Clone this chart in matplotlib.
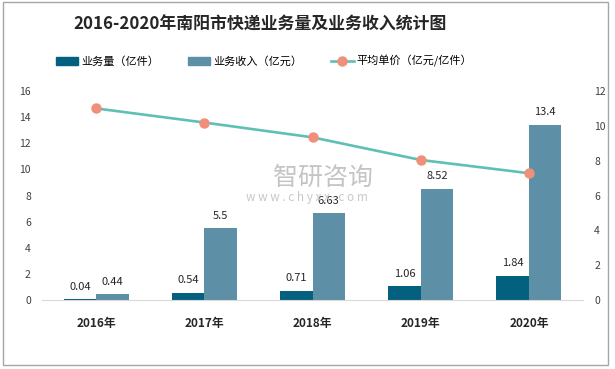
import numpy as np
import matplotlib
matplotlib.use("Agg")
import matplotlib.pyplot as plt
from matplotlib.patches import Patch, Rectangle
from matplotlib.lines import Line2D

plt.rcParams['font.family'] = ['Noto Sans CJK SC', 'DejaVu Sans']

# data
years = ['2016年', '2017年', '2018年', '2019年', '2020年']
volume = [0.04, 0.54, 0.71, 1.06, 1.84]          # 业务量（亿件）
revenue = [0.44, 5.5, 6.63, 8.52, 13.4]          # 业务收入（亿元）
unit_price = [11.0, 10.19, 9.34, 8.04, 7.28]     # 平均单价（亿元/亿件）
volume_labels = ['0.04', '0.54', '0.71', '1.06', '1.84']
revenue_labels = ['0.44', '5.5', '6.63', '8.52', '13.4']

dark = '#03607f'
light = '#5d8fa7'
line_c = '#5ec0b4'
dot_c = '#f0907a'
txt = '#262626'

fig = plt.figure(figsize=(6.15, 3.69), dpi=100)
ax = fig.add_axes([42/615, 1 - 300/369, 541/615, 209/369])
ax2 = ax.twinx()

x = np.arange(len(years))
w = 0.3
ax.bar(x - w/2, volume, w, color=dark, zorder=2)
ax.bar(x + w/2, revenue, w, color=light, zorder=2)

for xi, v, s in zip(x - w/2, volume, volume_labels):
    ax.annotate(s, (xi, v), xytext=(0, 9), textcoords='offset points',
                ha='center', va='center', fontsize=8, color=txt)
for xi, v, s in zip(x + w/2, revenue, revenue_labels):
    ax.annotate(s, (xi, v), xytext=(0, 9), textcoords='offset points',
                ha='center', va='center', fontsize=8, color=txt)

ax2.plot(x, unit_price, color=line_c, lw=1.9, marker='o', ms=6.5,
         mfc=dot_c, mec=dot_c, zorder=3)

ax.set_xlim(-0.5, 4.5)
ax.set_ylim(0, 16)
ax.set_yticks(range(0, 17, 2))
ax2.set_ylim(0, 12)
ax2.set_yticks(range(0, 13, 2))
ax.set_xticks(x)
ax.set_xticklabels(years, fontsize=8.5, fontweight='bold', color=txt)

for a in (ax, ax2):
    for sp in a.spines.values():
        sp.set_visible(False)
ax.spines['bottom'].set_visible(True)
ax.spines['bottom'].set_color('#d9d9d9')
ax.tick_params(axis='y', length=0, pad=8, labelsize=7.5, labelcolor='#404040')
ax.tick_params(axis='x', length=0, pad=12)
ax2.tick_params(axis='y', length=0, pad=8, labelsize=7.5, labelcolor='#404040')

# watermark
fig.text(323/615, 1 - 178/369, '智研咨询', fontsize=18, color='#c4c4c4',
         ha='center', va='center', zorder=0)
fig.text(307/615, 1 - 197/369, 'w w w . c h y x x . c o m', fontsize=8.5,
         color='#c8c8c8', ha='center', va='center', zorder=0)

fig.text(260/615, 1 - 25/369, '2016-2020年南阳市快递业务量及业务收入统计图',
         fontsize=12.2, fontweight='bold', color=txt, ha='center', va='center')

handles = [Patch(color=dark), Patch(color=light),
           Line2D([], [], color=line_c, lw=1.9, marker='o', ms=6.5,
                  mfc=dot_c, mec=dot_c)]
names = ['业务量（亿件）', '业务收入（亿元）', '平均单价（亿元/亿件）']
fig.legend(handles, names, loc='center', bbox_to_anchor=(264/615, 1 - 61/369),
           ncol=3, frameon=False, fontsize=8, handlelength=2.0,
           handleheight=0.7, handletextpad=0.3, columnspacing=2.6)

fig.patches.append(Rectangle((3/615, 1 - 365/369), 605/615, 363/369,
                             transform=fig.transFigure, fill=False,
                             edgecolor='#a6a6a6', lw=1))

fig.savefig('out.png', dpi=100)
